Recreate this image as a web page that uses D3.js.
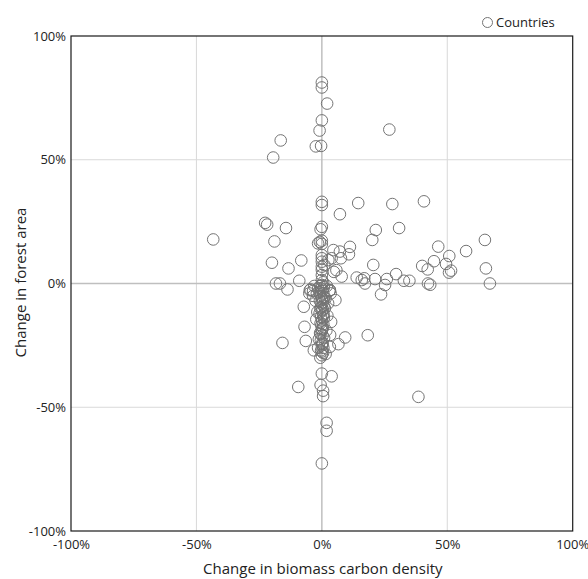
<!DOCTYPE html>
<html>
<head>
<meta charset="utf-8">
<script src="https://cdn.jsdelivr.net/npm/d3@7"></script>
<style>
  html, body { margin: 0; padding: 0; background: #fff; }
  svg text { font-family: "Open Sans", "Noto Sans", sans-serif; fill: #222; }
</style>
</head>
<body>
<svg id="chart" width="588" height="579"></svg>
<script>
// Tick values (fractions) and labels
const xTicks = [-1, -0.5, 0, 0.5, 1];
const yTicks = [-1, -0.5, 0, 0.5, 1];
const tickLabels = ["-100%", "-50%", "0%", "50%", "100%"];
const xTitle = "Change in biomass carbon density";
const yTitle = "Change in forest area";
const legendLabel = "Countries";

// Series values, in percent: change in biomass carbon density (x) and change in forest area (y)
const countryX = [
  0, 0, 2.1, 0, -0.9, -2.4, -0.3, -16.4, -19.4, 26.9,
  0, 0, 7.2, 14.5, 28.1, 40.7, 30.8, 21.5, 20.1, 65.0,
  46.4, 57.5, 50.8, 44.7, 40.0, 42.2, 49.5, 51.5, 50.7, 65.4,
  67.0, 42.3, 43.2, 29.6, 32.7, 34.9, 25.9, 25.2, 23.6, 21.2,
  20.5, 13.9, 15.9, 17.2, 16.9, 11.2, 10.8, 4.6, 7.2, 7.6,
  3.9, 5.8, 4.8, 7.9, 5.4, 3.2,
  -43.3, -22.6, -21.8, -14.3, -18.9, -19.9, -13.3, -8.2, -18.3, -16.7,
  -13.7, -9.0, -4.5, -7.2, -6.9, -15.7, -6.4, -3.2, -1.5, -0.8,
  0, -0.5, 0, 0, 0, 0, 0, 0, 0, 0, 0, 0, 2.6, 1.0,
  0.5, -0.6, 0.8, -0.3, 0.2, -1.0, 0.6, -0.4, 0.9, 0, -0.8, 0.4,
  -0.2, 0.7, -0.6, 0.3, 0, -0.9, 0.5, -0.3, 0.8, 0.1, -0.5, 0.6,
  -0.2, 0.4, 0, -0.7, 0.3, 0.9, -0.4, 0.2, 0, 0.6, -0.3, 0.5,
  0, -0.6, 0.4, 0.1, -0.2, 0.7, 0, -0.5, 0.3, 0,
  -3.0, -2.0, -1.5, 2.0, 3.0, -3.5, -2.5, 1.5, 2.5, -4.8, -5.0, -3.5,
  3.5, 3.2, 1.2, -1.8, 2.2, -2.2, 1.8, -1.2,
  3.7, 9.3, 18.3, 6.6, 3.2, 3.3, 1.5, -1.5,
  0, 3.9, -9.4, -0.5, 0.5, 0.5, 38.5, 1.9, 1.9, 0
];
const countryY = [
  81.2, 79.2, 72.7, 65.9, 61.8, 55.4, 55.6, 57.8, 50.9, 62.2,
  33.0, 31.7, 28.0, 32.5, 32.1, 33.2, 22.4, 21.6, 17.6, 17.6,
  14.9, 13.1, 11.1, 9.0, 7.1, 5.7, 7.9, 5.2, 4.4, 6.1,
  0, 0, -0.5, 3.8, 1.1, 1.1, 1.8, -0.6, -4.4, 1.8,
  7.5, 2.4, 1.4, 0, 2.1, 14.8, 11.8, 13.5, 12.9, 10.2,
  10.2, 5.4, 4.7, 2.8, -6.7, -2.7,
  17.8, 24.5, 23.8, 22.4, 17.0, 8.4, 6.1, 9.3, 0, 0,
  -2.4, 1.1, -2.4, -9.4, -17.5, -24.0, -23.2, -27.0, 16.2, 16.8,
  22.9, 21.9, 17.3, 16.0, 11.5, 10.2, 8.8, 6.8, 5.5, 3.4, 1.4, -0.6, 9.5, 7.5,
  0.5, -1.0, -1.5, -2.0, -3.0, -3.5, -4.0, -5.0, -5.5, -6.0, -7.0, -7.5,
  -8.0, -9.0, -10.0, -10.5, -11.0, -12.0, -13.0, -13.5, -14.0, -15.0, -16.0, -16.5,
  -17.0, -18.0, -19.0, -20.0, -21.0, -22.0, -23.0, -24.0, -25.0, -26.0, -27.0, -28.0,
  -29.0, -30.0, -2.5, -6.5, -9.5, -12.5, -18.5, -20.5, -24.5, -27.5,
  -1.0, -4.0, -2.0, -1.0, -3.0, -5.0, -7.0, -6.0, -8.0, -2.7, -4.0, -3.0,
  -4.0, -2.7, -10.0, -11.5, -13.0, -14.5, -19.0, -22.5,
  -15.5, -21.8, -20.9, -24.5, -25.6, -20.8, -28.5, -26.0,
  -36.4, -37.5, -41.8, -41.0, -43.3, -45.5, -45.8, -56.3, -59.5, -72.7
];

const points = countryX.map((x, i) => ({ x: x / 100, y: countryY[i] / 100 }));

const svg = d3.select("#chart");
const plot = { left: 71, right: 572.7, top: 36, bottom: 531 };

const x = d3.scaleLinear().domain([-1, 1]).range([plot.left, plot.right]);
const y = d3.scaleLinear().domain([-1, 1]).range([plot.bottom, plot.top]);

// Gridlines
svg.append("g")
  .selectAll("line")
  .data(xTicks.filter(t => t !== 0 && Math.abs(t) !== 1))
  .join("line")
  .attr("x1", d => x(d)).attr("x2", d => x(d))
  .attr("y1", plot.top).attr("y2", plot.bottom)
  .attr("stroke", "#d9d9d9").attr("stroke-width", 1);
svg.append("g")
  .selectAll("line")
  .data(yTicks.filter(t => t !== 0 && Math.abs(t) !== 1))
  .join("line")
  .attr("x1", plot.left).attr("x2", plot.right)
  .attr("y1", d => y(d)).attr("y2", d => y(d))
  .attr("stroke", "#d9d9d9").attr("stroke-width", 1);

// Zero axis lines
svg.append("line")
  .attr("x1", x(0)).attr("x2", x(0)).attr("y1", plot.top).attr("y2", plot.bottom)
  .attr("stroke", "#bfbfbf").attr("stroke-width", 1.5);
svg.append("line")
  .attr("x1", plot.left).attr("x2", plot.right).attr("y1", y(0)).attr("y2", y(0))
  .attr("stroke", "#bfbfbf").attr("stroke-width", 1.5);

// Points
svg.append("g")
  .selectAll("circle")
  .data(points)
  .join("circle")
  .attr("cx", d => x(d.x))
  .attr("cy", d => y(d.y))
  .attr("r", 5.8)
  .attr("fill", "none")
  .attr("stroke", "#747474")
  .attr("stroke-width", 1);

// Plot frame
svg.append("rect")
  .attr("x", plot.left).attr("y", plot.top)
  .attr("width", plot.right - plot.left).attr("height", plot.bottom - plot.top)
  .attr("fill", "none").attr("stroke", "#1a1a1a").attr("stroke-width", 1.2);

// Axes (labels only)
const xAxis = svg.append("g")
  .attr("transform", `translate(0,${plot.bottom})`)
  .call(d3.axisBottom(x).tickValues(xTicks).tickFormat(d => tickLabels[xTicks.indexOf(d)]).tickSize(0).tickPadding(9));
const yAxis = svg.append("g")
  .attr("transform", `translate(${plot.left},0)`)
  .call(d3.axisLeft(y).tickValues(yTicks).tickFormat(d => tickLabels[yTicks.indexOf(d)]).tickSize(0).tickPadding(5));
[xAxis, yAxis].forEach(a => {
  a.select(".domain").remove();
  a.selectAll("text").style("font-size", "13px").attr("fill", "#222")
    .style("font-family", "'Open Sans', sans-serif");
});
// keep the right-most x label inside the window
xAxis.selectAll("text").filter(d => d === 1).attr("text-anchor", "end").attr("dx", "16");

// Axis titles
svg.append("text")
  .attr("x", (plot.left + plot.right) / 2 + 1)
  .attr("y", 574)
  .attr("text-anchor", "middle")
  .style("font-size", "15px")
  .text(xTitle);
svg.append("text")
  .attr("transform", `translate(26,${(plot.top + plot.bottom) / 2 - 1}) rotate(-90)`)
  .attr("text-anchor", "middle")
  .style("font-size", "15px")
  .text(yTitle);

// Legend
svg.append("circle")
  .attr("cx", 487.5).attr("cy", 22.5).attr("r", 5)
  .attr("fill", "none").attr("stroke", "#747474").attr("stroke-width", 1);
svg.append("text")
  .attr("x", 496).attr("y", 27)
  .style("font-size", "13px")
  .text(legendLabel);
</script>
</body>
</html>
